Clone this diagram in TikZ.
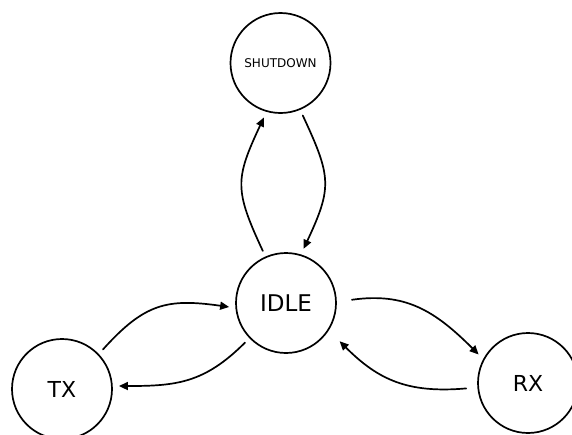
\documentclass[tikz,border=0pt]{standalone}
\usepackage{fontspec}
\setmainfont{DejaVu Sans}
\usetikzlibrary{arrows.meta}

\tikzset{
  state/.style={draw, circle, line width=1.7pt, minimum size=100pt, inner sep=0pt, outer sep=7pt},
  trans/.style={line width=1.7pt, -{Triangle[length=9pt,width=8pt]}}
}

\begin{document}
\begin{tikzpicture}[x=1pt, y=-1pt, line cap=round, line join=round]
  \useasboundingbox (0,0) rectangle (572,434);

  % states
  \node[state, font=\fontsize{12}{14}\selectfont] (shutdown) at (280.5,63) {SHUTDOWN};
  \node[state, font=\fontsize{23}{27}\selectfont] (idle) at (286,303) {IDLE};
  \node[state, font=\fontsize{22}{26}\selectfont] (tx) at (62,389) {TX};
  \node[state, font=\fontsize{22}{26}\selectfont] (rx) at (528,383) {RX};

  % transitions
  \draw[trans] (idle.114) to[out=115, in=245, looseness=1.3] (shutdown.253);
  \draw[trans] (shutdown.293) to[out=-65, in=65, looseness=1.3] (idle.72);
  \draw[trans] (tx.44) to[out=48, in=172, looseness=1.2] (idle.184);
  \draw[trans] (idle.224) to[out=225, in=0, looseness=1.1] (tx.3);
  \draw[trans, shorten <=9pt] (idle.2) to[out=8, in=135, looseness=1.1] (rx.150);
  \draw[trans, shorten <=5pt, shorten >=9pt] (rx.185) to[out=185, in=-45, looseness=1.1] (idle.326);
\end{tikzpicture}
\end{document}
